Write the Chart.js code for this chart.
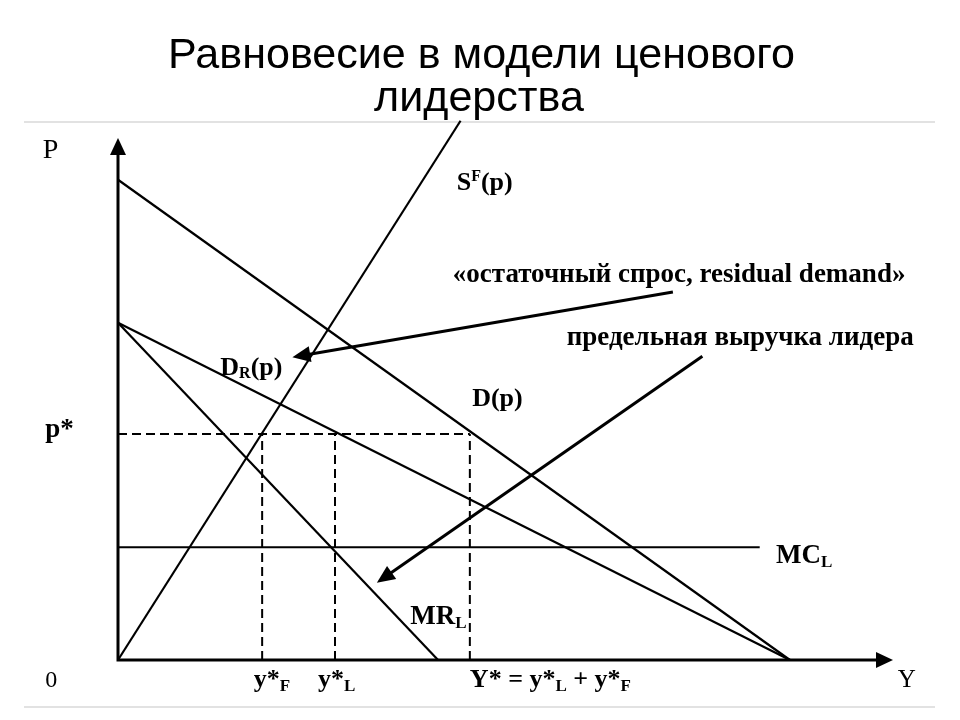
<!DOCTYPE html>
<html>
<head>
<meta charset="utf-8">
<script src="https://cdn.jsdelivr.net/npm/chart.js@4/dist/chart.umd.min.js"></script>
<style>
  body { margin: 0; background: #fff; }
  canvas { display: block; }
</style>
</head>
<body>
<canvas id="leaderChart" width="960" height="720"></canvas>
<script>
// Curves (quantity 0-100 on x, price 0-100 on y)
const curveNames = ["S^F(p)", "D(p)", "D_R(p)", "MR_L", "MC_L"];
const curveX = [[0, 44.2], [0, 86.7], [0, 86.7], [0, 41.3], [0, 82.8]];
const curveY = [[0, 103.3], [92.0, 0], [64.6, 0], [64.6, 0], [21.6, 21.6]];

// Equilibrium: price p* and quantities y*F, y*L, Y*
const pStar = 43.3;
const qStars = [18.6, 28.0, 45.4];

// Pointer arrows from the notes to the curves
const arrowFrom = [[71.6, 70.5], [75.4, 58.2]];
const arrowTo = [[22.5, 58.0], [33.4, 14.8]];

const SERIF = '"Liberation Serif", "Times New Roman", serif';

// text pieces: [text, size, dy, bold]
const labels = [
  { x: -9.7, y: 96.2, parts: [["P", 28, 0, false]] },
  { x: -9.4, y: -5.2, parts: [["0", 24, 0, false]] },
  { x: 100.6, y: -5.2, parts: [["Y", 25, 0, false]] },
  { x: -9.4, y: 42.7, parts: [["p*", 27, 0, true]] },
  { x: 43.7, y: 90.0, parts: [["S", 26, 0, true], ["F", 16, -9, true], ["(p)", 26, 0, true]] },
  { x: 43.2, y: 72.4, parts: [["«остаточный спрос, residual demand»", 27, 0, true]] },
  { x: 57.9, y: 60.3, parts: [["предельная выручка лидера", 27, 0, true]] },
  { x: 13.2, y: 54.6, parts: [["D", 26, 0, true], ["R", 16, 3, true], ["(p)", 26, 0, true]] },
  { x: 45.7, y: 48.7, parts: [["D(p)", 26, 0, true]] },
  { x: 84.9, y: 18.6, parts: [["MC", 27, 0, true], ["L", 17, 4, true]] },
  { x: 37.7, y: 6.9, parts: [["MR", 27, 0, true], ["L", 17, 4, true]] },
  { x: 17.5, y: -5.2, parts: [["y*", 26, 0, true], ["F", 17, 4, true]] },
  { x: 25.8, y: -5.2, parts: [["y*", 26, 0, true], ["L", 17, 4, true]] },
  { x: 45.4, y: -5.2, parts: [["Y* = y*", 26, 0, true], ["L", 17, 4, true], [" + y*", 26, 0, true], ["F", 17, 4, true]] },
];

const datasets = curveNames.map((name, i) => ({
  label: name,
  data: curveX[i].map((x, j) => ({ x: x, y: curveY[i][j] })),
  showLine: true,
  borderColor: "#000",
  borderWidth: 2.2,
  pointRadius: 0,
  clip: false,
}));

// dashed guides to p* and the three quantities
datasets.push({
  label: "p*",
  data: [{ x: 0, y: pStar }, { x: qStars[2], y: pStar }],
  showLine: true,
  borderColor: "#000",
  borderWidth: 2,
  borderDash: [9, 5],
  pointRadius: 0,
});
qStars.forEach((q) => {
  datasets.push({
    label: "q*",
    data: [{ x: q, y: 0 }, { x: q, y: pStar }],
    showLine: true,
    borderColor: "#000",
    borderWidth: 2,
    borderDash: [9, 5],
    pointRadius: 0,
  });
});

function head(ctx, x1, y1, x2, y2, len, half) {
  const a = Math.atan2(y2 - y1, x2 - x1);
  ctx.beginPath();
  ctx.moveTo(x2, y2);
  ctx.lineTo(x2 - len * Math.cos(a) + half * Math.sin(a), y2 - len * Math.sin(a) - half * Math.cos(a));
  ctx.lineTo(x2 - len * Math.cos(a) - half * Math.sin(a), y2 - len * Math.sin(a) + half * Math.cos(a));
  ctx.closePath();
  ctx.fill();
}

const decorPlugin = {
  id: "decor",
  beforeDraw(chart) {
    const ctx = chart.ctx;
    ctx.save();
    ctx.fillStyle = "#fff";
    ctx.fillRect(0, 0, chart.width, chart.height);
    // thin grey rules of the slide
    ctx.strokeStyle = "#d9d9d9";
    ctx.lineWidth = 1.5;
    [122, 707].forEach((y) => {
      ctx.beginPath();
      ctx.moveTo(24, y);
      ctx.lineTo(935, y);
      ctx.stroke();
    });
    // title, fitted to the slide's width
    ctx.fillStyle = "#000";
    ctx.font = '42px "Liberation Sans", Arial, sans-serif';
    ctx.textAlign = "center";
    ctx.textBaseline = "alphabetic";
    const line1 = "Равновесие в модели ценового";
    const sx = 627 / ctx.measureText(line1).width;
    [[line1, 481.5, 68], ["лидерства", 479, 111]].forEach(([t, x, y]) => {
      ctx.save();
      ctx.translate(x, y);
      ctx.scale(sx, 1);
      ctx.fillText(t, 0, 0);
      ctx.restore();
    });
    ctx.restore();
  },
  afterDatasetsDraw(chart) {
    const ctx = chart.ctx;
    const xs = chart.scales.x;
    const ys = chart.scales.y;
    const area = chart.chartArea;
    ctx.save();
    ctx.strokeStyle = "#000";
    ctx.fillStyle = "#000";

    // axes with arrow heads
    ctx.lineWidth = 3;
    ctx.beginPath();
    ctx.moveTo(area.left, area.top + 10);
    ctx.lineTo(area.left, area.bottom);
    ctx.lineTo(area.right - 10, area.bottom);
    ctx.stroke();
    head(ctx, area.left, area.bottom, area.left, area.top, 17, 8);
    head(ctx, area.left, area.bottom, area.right, area.bottom, 17, 8);

    // pointer arrows
    arrowFrom.forEach((f, i) => {
      const x1 = xs.getPixelForValue(f[0]);
      const y1 = ys.getPixelForValue(f[1]);
      const x2 = xs.getPixelForValue(arrowTo[i][0]);
      const y2 = ys.getPixelForValue(arrowTo[i][1]);
      const a = Math.atan2(y2 - y1, x2 - x1);
      ctx.lineWidth = 3;
      ctx.beginPath();
      ctx.moveTo(x1, y1);
      ctx.lineTo(x2 - 10 * Math.cos(a), y2 - 10 * Math.sin(a));
      ctx.stroke();
      head(ctx, x1, y1, x2, y2, 18, 8);
    });

    // labels
    ctx.textAlign = "left";
    ctx.textBaseline = "alphabetic";
    labels.forEach((lb) => {
      let cx = xs.getPixelForValue(lb.x);
      const cy = ys.getPixelForValue(lb.y);
      lb.parts.forEach(([t, size, dy, bold]) => {
        ctx.font = (bold ? "bold " : "") + size + "px " + SERIF;
        ctx.fillText(t, cx, cy + dy);
        cx += ctx.measureText(t).width;
      });
    });
    ctx.restore();
  },
};

const leaderChart = new Chart(document.getElementById("leaderChart"), {
  type: "scatter",
  data: { datasets: datasets },
  options: {
    responsive: false,
    animation: false,
    layout: { padding: { left: 118, right: 67, top: 138, bottom: 60 } },
    scales: {
      x: { type: "linear", min: 0, max: 100, display: false },
      y: { type: "linear", min: 0, max: 100, display: false },
    },
    plugins: {
      legend: { display: false },
      tooltip: { enabled: false },
    },
    elements: { point: { radius: 0 } },
  },
  plugins: [decorPlugin],
});
</script>
</body>
</html>
